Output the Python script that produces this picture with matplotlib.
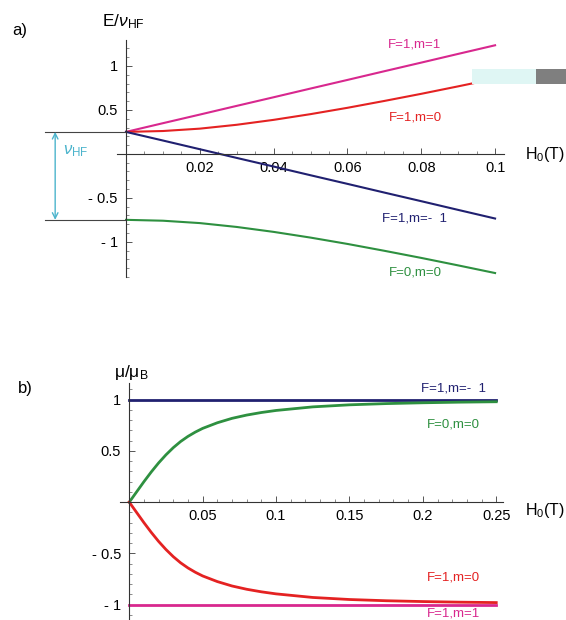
"""Breit-Rabi diagram for hydrogen: energies and magnetic moments."""

import matplotlib

matplotlib.use("Agg")
import matplotlib.pyplot as plt
from matplotlib.patches import Rectangle
from matplotlib.ticker import FixedLocator, MultipleLocator

plt.rcParams["font.family"] = ["Liberation Sans", "DejaVu Sans"]
plt.rcParams["mathtext.fontset"] = "custom"
plt.rcParams["mathtext.rm"] = "Liberation Sans"
plt.rcParams["mathtext.it"] = "Liberation Sans:italic"

# panel a: energy levels E/nu_HF vs H0 (T)
field_a = [0.0, 0.01, 0.02, 0.03, 0.04, 0.05, 0.06, 0.07, 0.08, 0.09, 0.10]
e_f1_m1 = [0.25, 0.349, 0.447, 0.546, 0.644, 0.743, 0.841, 0.940, 1.038, 1.137, 1.235]
e_f1_m0 = [0.25, 0.260, 0.287, 0.331, 0.387, 0.452, 0.524, 0.602, 0.683, 0.768, 0.855]
e_f1_mm1 = [0.25, 0.152, 0.053, -0.046, -0.144, -0.243, -0.341, -0.440, -0.538, -0.637, -0.735]
e_f0_m0 = [-0.75, -0.760, -0.787, -0.831, -0.887, -0.952, -1.024, -1.102, -1.183, -1.268, -1.355]

# panel b: magnetic moment mu/mu_B vs H0 (T)
field_b = [0.0, 0.005, 0.01, 0.015, 0.02, 0.025, 0.03, 0.035, 0.04, 0.045, 0.05,
           0.06, 0.07, 0.08, 0.09, 0.10, 0.125, 0.15, 0.175, 0.20, 0.225, 0.25]
mu_f0_m0 = [0.0, 0.10, 0.20, 0.295, 0.383, 0.462, 0.532, 0.592, 0.642, 0.684, 0.72,
            0.775, 0.818, 0.85, 0.875, 0.895, 0.93, 0.95, 0.962, 0.97, 0.976, 0.98]
mu_f1_m0 = [-0.0, -0.10, -0.20, -0.295, -0.383, -0.462, -0.532, -0.592, -0.642, -0.684, -0.72,
            -0.775, -0.818, -0.85, -0.875, -0.895, -0.93, -0.95, -0.962, -0.97, -0.976, -0.98]
mu_f1_mm1 = [1.0] * len(field_b)
mu_f1_m1 = [-1.0] * len(field_b)

xticks_a = [0.02, 0.04, 0.06, 0.08, 0.1]
xlabels_a = ["0.02", "0.04", "0.06", "0.08", "0.1"]
yticks_a = [-1.0, -0.5, 0.5, 1.0]
ylabels_a = ["- 1", "- 0.5", "0.5", "1"]
xticks_b = [0.05, 0.1, 0.15, 0.2, 0.25]
xlabels_b = ["0.05", "0.1", "0.15", "0.2", "0.25"]
yticks_b = [-1.0, -0.5, 0.5, 1.0]
ylabels_b = ["- 1", "- 0.5", "0.5", "1"]

MAGENTA = "#d8288e"
RED = "#e42222"
NAVY = "#202070"
GREEN = "#2e9040"
CYAN = "#4cb4cc"

W, H = 566, 620
fig = plt.figure(figsize=(W / 100, H / 100), dpi=100)


def px_axes(left, right, top, bottom):
    return fig.add_axes([left / W, 1 - bottom / H, (right - left) / W, (bottom - top) / H])


def style_axes(ax, xticks, xlabels, yticks, ylabels, xminor, yminor):
    for s in ("top", "right"):
        ax.spines[s].set_visible(False)
    for s in ("left", "bottom"):
        ax.spines[s].set_position(("data", 0))
        ax.spines[s].set_linewidth(0.8)
        ax.spines[s].set_color("#333333")
    ax.xaxis.set_major_locator(FixedLocator(xticks))
    ax.set_xticklabels(xlabels)
    ax.yaxis.set_major_locator(FixedLocator(yticks))
    ax.set_yticklabels(ylabels)
    ax.xaxis.set_minor_locator(MultipleLocator(xminor))
    ax.yaxis.set_minor_locator(MultipleLocator(yminor))
    ax.tick_params(which="major", direction="in", length=4, width=0.7, color="#555555", labelsize=10.5, pad=6)
    ax.tick_params(which="minor", direction="in", length=2.2, width=0.6, color="#777777")
    ax.tick_params(axis="x", which="major", pad=5)
    ax.patch.set_alpha(0)


# ---- panel a ----
ax1 = px_axes(116.8, 504.3, 40, 277)
ax1.set_xlim(-0.0025, 0.1025)
ax1.set_ylim(-1.40, 1.295)
style_axes(ax1, xticks_a, xlabels_a, yticks_a, ylabels_a, 0.005, 0.1)

ax1.plot(field_a, e_f1_m1, color=MAGENTA, lw=1.5)
ax1.plot(field_a, e_f1_m0, color=RED, lw=1.5)
ax1.plot(field_a, e_f1_mm1, color=NAVY, lw=1.5)
ax1.plot(field_a, e_f0_m0, color=GREEN, lw=1.5)

# hyperfine splitting bracket
for yv in (e_f1_m1[0], e_f0_m0[0]):
    ax1.plot([-0.022, 0], [yv, yv], color="#444444", lw=0.8, clip_on=False)
ax1.annotate("", xy=(-0.0192, e_f0_m0[0]), xytext=(-0.0192, e_f1_m1[0]),
             arrowprops=dict(arrowstyle="<->", color=CYAN, lw=1.0, shrinkA=0, shrinkB=0),
             annotation_clip=False)
ax1.text(-0.0172, 0.03, r"$\nu_{\mathrm{HF}}$", color=CYAN, fontsize=12, ha="left", va="center")

ax1.text(0.0783, 1.24, "F=1,m=1", color=MAGENTA, fontsize=9.5, ha="center", va="center")
ax1.text(0.0783, 0.41, "F=1,m=0", color=RED, fontsize=9.5, ha="center", va="center")
ax1.text(0.0783, -0.73, "F=1,m=-  1", color=NAVY, fontsize=9.5, ha="center", va="center")
ax1.text(0.0783, -1.35, "F=0,m=0", color=GREEN, fontsize=9.5, ha="center", va="center")

fig.text(102 / W, 1 - 22 / H, r"E/$\nu_{\mathrm{HF}}$", fontsize=12.5, ha="left", va="center")
fig.text(12 / W, 1 - 30 / H, "a)", fontsize=12, ha="left", va="center")
fig.text(525 / W, 1 - 155 / H, r"$\mathrm{H_0(T)}$", fontsize=11.5, ha="left", va="center")

# jpeg artifact block in the original
fig.patches.append(Rectangle((472 / W, 1 - 84 / H), 64 / W, 15 / H, transform=fig.transFigure,
                             facecolor="#dff6f4", edgecolor="none"))
fig.patches.append(Rectangle((536 / W, 1 - 84 / H), 30 / W, 15 / H, transform=fig.transFigure,
                             facecolor="#7f7f7f", edgecolor="none"))

# ---- panel b ----
ax2 = px_axes(120, 503, 383, 620)
ax2.set_xlim(-0.0063, 0.2546)
ax2.set_ylim(-1.15, 1.163)
style_axes(ax2, xticks_b, xlabels_b, yticks_b, ylabels_b, 0.01, 0.1)

ax2.plot(field_b, mu_f1_m1, color=MAGENTA, lw=2.0)
ax2.plot(field_b, mu_f1_mm1, color=NAVY, lw=2.0)
ax2.plot(field_b, mu_f0_m0, color=GREEN, lw=2.0)
ax2.plot(field_b, mu_f1_m0, color=RED, lw=2.0)

ax2.text(0.2210, 1.11, "F=1,m=-  1", color=NAVY, fontsize=9.5, ha="center", va="center")
ax2.text(0.2210, 0.76, "F=0,m=0", color=GREEN, fontsize=9.5, ha="center", va="center")
ax2.text(0.2210, -0.74, "F=1,m=0", color=RED, fontsize=9.5, ha="center", va="center")
ax2.text(0.2210, -1.09, "F=1,m=1", color=MAGENTA, fontsize=9.5, ha="center", va="center", clip_on=False)

fig.text(114 / W, 1 - 373 / H, r"$\mathrm{\mu/\mu_B}$", fontsize=12.5, ha="left", va="center")
fig.text(18 / W, 1 - 388 / H, "b)", fontsize=12, ha="left", va="center")
fig.text(525 / W, 1 - 510 / H, r"$\mathrm{H_0(T)}$", fontsize=11.5, ha="left", va="center")

fig.savefig("out.png", dpi=100)
plt.close(fig)
